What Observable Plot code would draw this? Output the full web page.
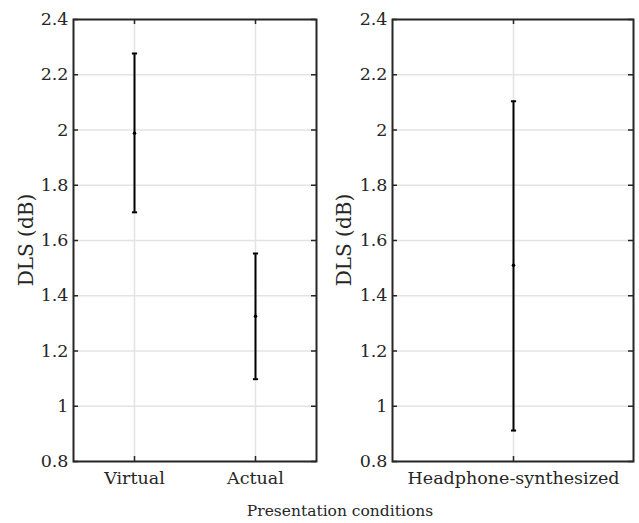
<!DOCTYPE html>
<html>
<head>
<meta charset="utf-8">
<script src="https://cdn.jsdelivr.net/npm/d3@7"></script>
<script src="https://cdn.jsdelivr.net/npm/@observablehq/plot@0.6"></script>
<style>
  html, body { margin: 0; padding: 0; background: #fff; }
  #wrap { position: relative; width: 639px; height: 523px; overflow: hidden; font-family: "DejaVu Serif", serif; color: #262626; }
  .panel { position: absolute; top: 0; }
  #xlabel { position: absolute; left: 0; width: 680px; top: 501px; line-height: 20px; text-align: center; font-size: 15.5px; }
  .ylabel { position: absolute; top: 240px; width: 200px; height: 24px; line-height: 24px; margin-left: -100px; margin-top: -12px; text-align: center; font-size: 20px; transform: rotate(-90deg); }
</style>
</head>
<body>
<div id="wrap">
  <div id="p1" class="panel" style="left:0px"></div>
  <div id="p2" class="panel" style="left:320px"></div>
  <div class="ylabel" id="yl1" style="left:26px"></div>
  <div class="ylabel" id="yl2" style="left:344px"></div>
  <div id="xlabel">Presentation conditions</div>
</div>
<script>
// ---- data ----
const leftConditions = ["Virtual", "Actual"];
const leftMean = [1.988, 1.326];
const leftLow = [1.702, 1.098];
const leftHigh = [2.277, 1.553];

const rightConditions = ["Headphone-synthesized"];
const rightMean = [1.510];
const rightLow = [0.912];
const rightHigh = [2.104];

const yTicks = [0.8, 1, 1.2, 1.4, 1.6, 1.8, 2, 2.2, 2.4];
const yTickLabels = ["0.8", "1", "1.2", "1.4", "1.6", "1.8", "2", "2.2", "2.4"];
const yLabel = "DLS (dB)";

document.getElementById("yl1").textContent = yLabel;
document.getElementById("yl2").textContent = yLabel;

// ---- drawing ----
const capSymbol = {
  draw(context, size) {
    const w = Math.sqrt(size / Math.PI);
    context.moveTo(-w, 0);
    context.lineTo(w, 0);
  }
};

function panel(cats, mean, lo, hi, opts) {
  const data = cats.map((c, i) => ({cond: c, mean: mean[i], lo: lo[i], hi: hi[i]}));
  const {width, height, ml, mr, mt, mb} = opts;
  const fw = width - ml - mr, fh = height - mt - mb;
  const tk = 5;
  const ink = "#262626";
  const grid = "#e3e3e3";
  return Plot.plot({
    width, height,
    marginLeft: ml, marginRight: mr, marginTop: mt, marginBottom: mb,
    style: {fontFamily: "'DejaVu Serif', serif", fontSize: "17.5px", color: ink, background: "white"},
    x: {type: "point", domain: cats, padding: 0.5},
    y: {domain: [0.8, 2.4], ticks: yTicks},
    marks: [
      Plot.ruleY(yTicks, {stroke: grid, strokeWidth: 1.5}),
      Plot.ruleX(cats, {stroke: grid, strokeWidth: 1.5}),
      // inner ticks
      Plot.ruleY(yTicks, {stroke: ink, strokeWidth: 1.5, insetRight: fw - tk}),
      Plot.ruleY(yTicks, {stroke: ink, strokeWidth: 1.5, insetLeft: fw - tk}),
      Plot.ruleX(cats, {stroke: ink, strokeWidth: 1.5, insetTop: fh - tk}),
      Plot.ruleX(cats, {stroke: ink, strokeWidth: 1.5, insetBottom: fh - tk}),
      Plot.axisY({tickSize: 0, tickPadding: 5, label: null, tickFormat: (d) => yTickLabels[yTicks.indexOf(d)], fill: ink, fontSize: 17.5}),
      Plot.axisX({tickSize: 0, tickPadding: 10, label: null, fill: ink, fontSize: 17.5}),
      // error bars
      Plot.ruleX(data, {x: "cond", y1: "lo", y2: "hi", stroke: "black", strokeWidth: 2}),
      Plot.dot(data, {x: "cond", y: "hi", symbol: capSymbol, r: 2.6, stroke: "black", strokeWidth: 2}),
      Plot.dot(data, {x: "cond", y: "lo", symbol: capSymbol, r: 2.6, stroke: "black", strokeWidth: 2}),
      Plot.dot(data, {x: "cond", y: "mean", r: 1.8, fill: "black", stroke: null}),
      Plot.frame({stroke: ink, strokeWidth: 2})
    ]
  });
}

document.getElementById("p1").appendChild(
  panel(leftConditions, leftMean, leftLow, leftHigh, {width: 320, height: 490, ml: 73, mr: 4, mt: 19, mb: 29})
);
document.getElementById("p2").appendChild(
  panel(rightConditions, rightMean, rightLow, rightHigh, {width: 319, height: 490, ml: 72, mr: 6, mt: 19, mb: 29})
);
</script>
</body>
</html>
